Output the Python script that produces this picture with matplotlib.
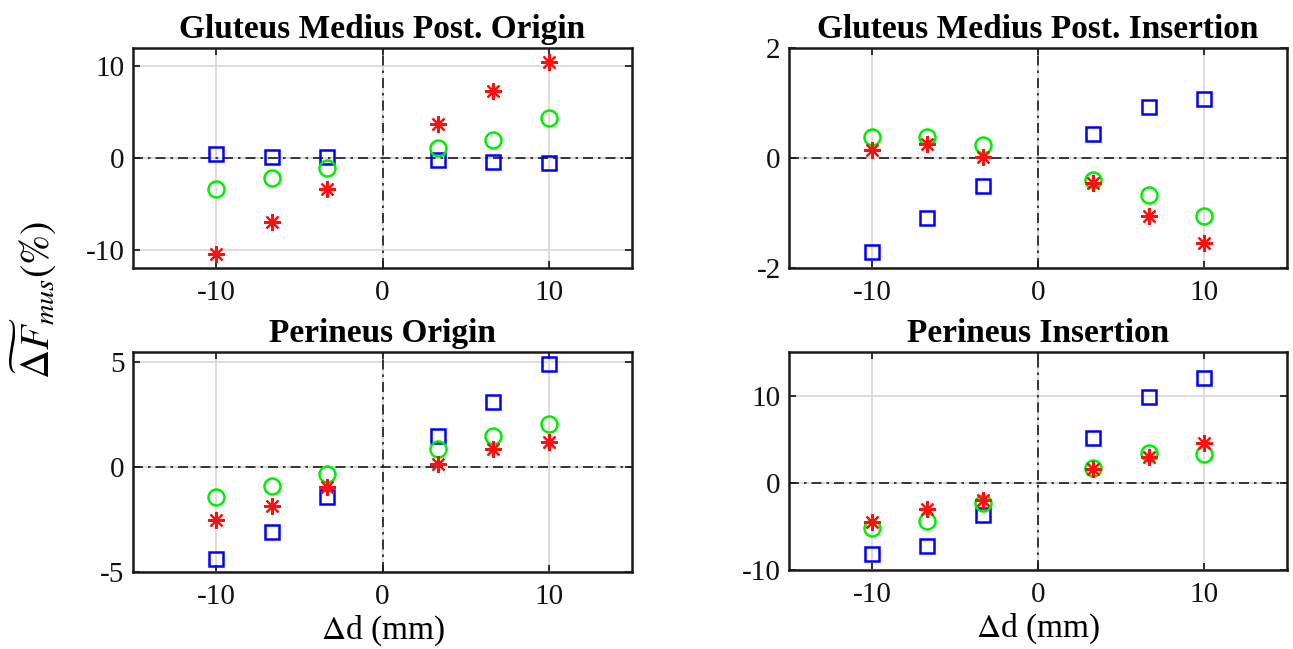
import matplotlib
matplotlib.use("Agg")
import matplotlib.pyplot as plt

plt.rcParams['font.family'] = ['Liberation Serif', 'DejaVu Serif']
plt.rcParams['mathtext.fontset'] = 'stix'
plt.rcParams['axes.unicode_minus'] = False

# displacement of the attachment point (mm)
d_mm = [-10, -6.67, -3.33, 3.33, 6.67, 10]

titles = ["Gluteus Medius Post. Origin", "Gluteus Medius Post. Insertion",
          "Perineus Origin", "Perineus Insertion"]

# relative muscle force change (%) for the three series in each panel
glut_orig_blue = [0.47, 0.15, 0.12, -0.25, -0.44, -0.55]
glut_orig_green = [-3.35, -2.18, -1.05, 1.09, 2.0, 4.4]
glut_orig_red = [-10.44, -6.98, -3.42, 3.75, 7.31, 10.47]

glut_ins_blue = [-1.71, -1.09, -0.50, 0.44, 0.93, 1.08]
glut_ins_green = [0.38, 0.38, 0.23, -0.40, -0.68, -1.06]
glut_ins_red = [0.15, 0.25, 0.02, -0.46, -1.05, -1.54]

per_orig_blue = [-4.39, -3.10, -1.44, 1.47, 3.10, 4.94]
per_orig_green = [-1.41, -0.91, -0.32, 0.88, 1.47, 2.08]
per_orig_red = [-2.51, -1.87, -0.96, 0.16, 0.85, 1.2]

per_ins_blue = [-8.19, -7.24, -3.70, 5.18, 9.79, 12.04]
per_ins_green = [-5.22, -4.34, -2.32, 1.75, 3.39, 3.28]
per_ins_red = [-4.53, -3.01, -1.98, 1.56, 2.97, 4.61]

panels = [
    (glut_orig_blue, glut_orig_green, glut_orig_red, (-12, 12), [-10, 0, 10]),
    (glut_ins_blue, glut_ins_green, glut_ins_red, (-2, 2), [-2, 0, 2]),
    (per_orig_blue, per_orig_green, per_orig_red, (-5, 5.5), [-5, 0, 5]),
    (per_ins_blue, per_ins_green, per_ins_red, (-10, 15), [-10, 0, 10]),
]

W, H = 1293, 649
fig = plt.figure(figsize=(W / 100, H / 100), dpi=100)

# axes boxes in pixels: (left, top, right, bottom)
boxes = [(133, 48, 632, 268), (789, 48, 1287, 268),
         (133, 352, 632, 572), (789, 352, 1287, 570)]

dashdot = (0, (6, 3, 1.5, 3))

for i, (box, (blue, green, red, ylim, yticks)) in enumerate(zip(boxes, panels)):
    l, t, r, b = box
    ax = fig.add_axes([l / W, 1 - b / H, (r - l) / W, (b - t) / H])
    ax.set_xlim(-15, 15)
    ax.set_ylim(*ylim)
    ax.set_xticks([-10, 0, 10])
    ax.set_yticks(yticks)
    ax.grid(True, color='#dadada', lw=1.3)
    ax.axhline(0, color='#1a1a1a', lw=1.2, linestyle=dashdot, zorder=2)
    ax.axvline(0, color='#1a1a1a', lw=1.2, linestyle=dashdot, zorder=2)

    ax.plot(d_mm, blue, linestyle='none', marker='s', ms=10, mfc='none',
            mec='#0000ff', mew=1.8, zorder=3)
    ax.plot(d_mm, green, linestyle='none', marker='o', ms=11.5, mfc='none',
            mec='#00ee00', mew=1.8, zorder=4)
    ax.plot(d_mm, red, linestyle='none', marker=(8, 2, 0), ms=12,
            mec='#ff1010', mew=1.6, zorder=5)

    ax.tick_params(direction='in', top=True, right=True, length=5, width=1.2,
                   labelsize=21, pad=9, colors='#111111')
    ax.tick_params(axis='y', pad=6)
    for s in ax.spines.values():
        s.set_linewidth(1.8)
        s.set_color('#1a1a1a')
    ax.set_title(titles[i], fontsize=24, fontweight='bold', pad=7)
    if i >= 2:
        ax.set_xlabel(r'$\Delta$d (mm)', fontsize=24, labelpad=2)

fig.text(33 / W, 1 - 300 / H, r'$\widetilde{\Delta F}_{mus}(\%)$', fontsize=29,
         rotation=90, ha='center', va='center')

fig.savefig('out.png', dpi=100)
